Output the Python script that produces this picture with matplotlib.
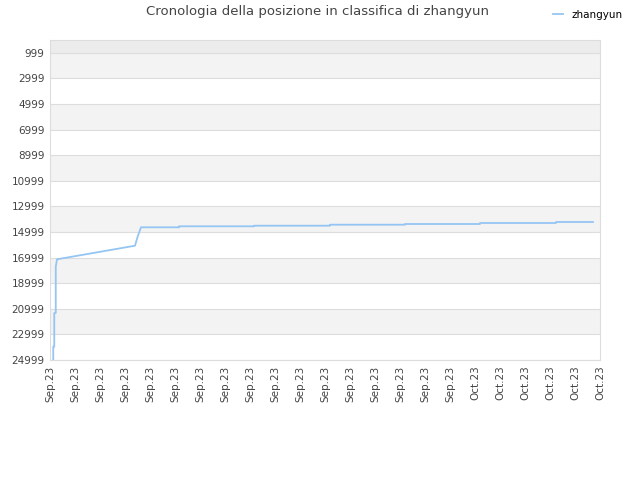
import matplotlib
matplotlib.use("Agg")
import matplotlib.pyplot as plt
from matplotlib.lines import Line2D

# data (x in day index from first tick, rank values)
x_days = [0.13, 0.13, 0.17, 0.17, 0.23, 0.23, 0.28, 3.4,
          3.5, 3.64, 5.16, 5.16, 8.16, 8.16, 11.2, 11.2, 14.2, 14.2, 17.2, 17.2,
          20.24, 20.24, 21.72]
ranks = [24999, 23960, 23960, 21327, 21327, 17710, 17132, 16070,
         15400, 14632, 14632, 14554, 14554, 14507, 14507, 14429, 14429, 14374,
         14374, 14296, 14296, 14218, 14218]
y_ticks = [999, 2999, 4999, 6999, 8999, 10999, 12999, 14999, 16999, 18999, 20999, 22999, 24999]
x_labels = ["Sep.23"] * 17 + ["Oct.23"] * 6
series_name = "zhangyun"
title = "Cronologia della posizione in classifica di zhangyun"

fig = plt.figure(figsize=(6.4, 4.8), dpi=100)
ax = fig.add_axes([50/640, 1-360/480, 550/640, 320/480])

ymin, ymax = -1, 24999
ax.set_ylim(ymax, ymin)
ax.set_xlim(0, len(x_labels) - 1)

# bands
ax.axhspan(ymin, y_ticks[0], color="#ececec", zorder=0, lw=0)
for i in range(0, len(y_ticks) - 1, 2):
    ax.axhspan(y_ticks[i], y_ticks[i + 1], color="#f3f3f3", zorder=0, lw=0)
for t in y_ticks:
    ax.axhline(t, color="#dddddd", lw=0.8, zorder=1)

ax.plot(x_days, ranks, color="#95c5f3", lw=1.3, zorder=3)

ax.set_yticks(y_ticks)
ax.set_yticklabels([str(t) for t in y_ticks])
ax.set_xticks(range(len(x_labels)))
ax.set_xticklabels(x_labels, rotation=90)
ax.tick_params(axis="both", length=0, labelsize=7.5, colors="#444444", pad=4)
for s in ax.spines.values():
    s.set_color("#dddddd")
    s.set_linewidth(0.8)

fig.text(318/640, 1-12/480, title, ha="center", va="center", fontsize=9.5, color="#444444")
handle = Line2D([0], [0], color="#95c5f3", lw=1.3)
fig.legend([handle], [series_name], loc="center", bbox_to_anchor=(588/640, 1-15/480),
           frameon=False, fontsize=7.5, handlelength=1.0, handletextpad=0.8)

fig.savefig("out.png", dpi=100)
